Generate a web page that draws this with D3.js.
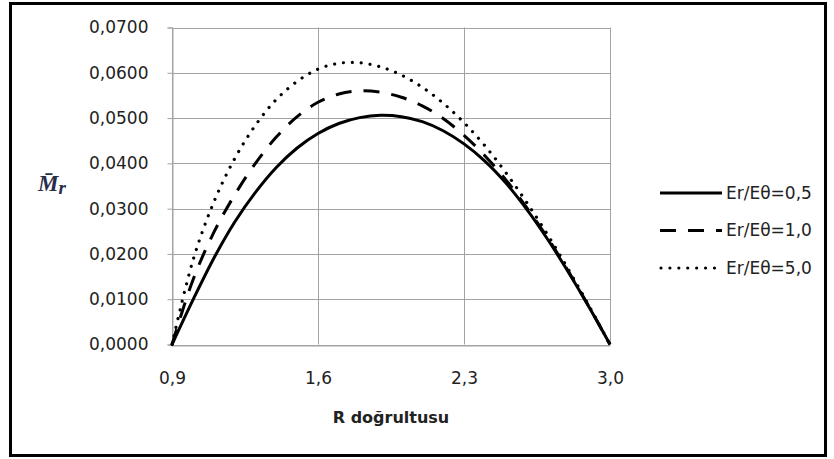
<!DOCTYPE html>
<html>
<head>
<meta charset="utf-8">
<script src="https://cdn.jsdelivr.net/npm/d3@7"></script>
<style>
  html, body { margin: 0; padding: 0; background: #fff; }
  svg { display: block; }
  text { font-family: "DejaVu Sans", sans-serif; fill: #222; }
</style>
</head>
<body>
<svg id="chart" width="834" height="459"></svg>
<script>
// Radial positions along R
const rValues = [0.9, 1.0, 1.1, 1.2, 1.3, 1.4, 1.5, 1.6, 1.7, 1.8, 1.9,
                 2.0, 2.1, 2.2, 2.3, 2.4, 2.5, 2.6, 2.7, 2.8, 2.9, 3.0];

// Moment M̄r for each modulus ratio Er/Eθ
const momentHalf = [0, 0.0098, 0.0190, 0.0270, 0.0336, 0.0391, 0.0434, 0.0466, 0.0488, 0.0501,
                    0.0506, 0.0503, 0.0492, 0.0472, 0.0443, 0.0405, 0.0357, 0.0299, 0.0233, 0.0160, 0.0082, 0];
const momentOne  = [0, 0.0142, 0.0247, 0.0330, 0.0400, 0.0458, 0.0503, 0.0535, 0.0553, 0.0560,
                    0.0557, 0.0546, 0.0527, 0.0499, 0.0462, 0.0417, 0.0364, 0.0303, 0.0236, 0.0162, 0.0083, 0];
const momentFive = [0, 0.0185, 0.0314, 0.0410, 0.0484, 0.0541, 0.0581, 0.0608, 0.0621, 0.0622,
                    0.0613, 0.0595, 0.0568, 0.0533, 0.0490, 0.0439, 0.0380, 0.0314, 0.0243, 0.0166, 0.0085, 0];

const seriesNames = ["Er/Eθ=0,5", "Er/Eθ=1,0", "Er/Eθ=5,0"];
const xTicks = [0.9, 1.6, 2.3, 3.0];
const yTicks = [0, 0.01, 0.02, 0.03, 0.04, 0.05, 0.06, 0.07];

const svg = d3.select("#chart");

// outer frame
svg.append("rect")
  .attr("x", 10.5).attr("y", 3.5)
  .attr("width", 815).attr("height", 452)
  .attr("fill", "#fff").attr("stroke", "#000").attr("stroke-width", 3);

const x = d3.scaleLinear().domain([0.9, 3.0]).range([172, 610]);
const y = d3.scaleLinear().domain([0, 0.07]).range([344.5, 27.5]);
const fmtComma = (v, digits) => v.toFixed(digits).replace(".", ",");

const gridColor = "#a3a3a3";

// horizontal grid lines
svg.append("g").selectAll("line").data(yTicks).join("line")
  .attr("x1", x(0.9)).attr("x2", x(3.0))
  .attr("y1", d => Math.round(y(d)) + 0.5).attr("y2", d => Math.round(y(d)) + 0.5)
  .attr("stroke", gridColor).attr("stroke-width", 1);

// vertical grid lines
svg.append("g").selectAll("line").data(xTicks).join("line")
  .attr("x1", d => Math.round(x(d)) + 0.5).attr("x2", d => Math.round(x(d)) + 0.5)
  .attr("y1", y(0.07)).attr("y2", y(0))
  .attr("stroke", gridColor).attr("stroke-width", 1);

// y axis with outside ticks
const yAxis = d3.axisLeft(y).tickValues(yTicks).tickSize(5).tickPadding(19)
  .tickFormat(d => fmtComma(d, 4));
const gy = svg.append("g").attr("transform", `translate(${Math.round(x(0.9)) + 0.5},0)`).call(yAxis);
gy.select(".domain").attr("stroke", gridColor);
gy.selectAll(".tick line").attr("stroke", gridColor);
gy.selectAll(".tick text").attr("font-size", 17).attr("font-family", "DejaVu Sans").attr("fill", "#222");

// x axis
const xAxis = d3.axisBottom(x).tickValues(xTicks).tickSize(0).tickPadding(26)
  .tickFormat(d => fmtComma(d, 1));
const gx = svg.append("g").attr("transform", `translate(0,${Math.round(y(0)) + 0.5})`).call(xAxis);
gx.select(".domain").attr("stroke", gridColor);
gx.selectAll(".tick text").attr("font-size", 17).attr("font-family", "DejaVu Sans").attr("fill", "#222");

// axis titles
svg.append("text")
  .attr("x", 391).attr("y", 423)
  .attr("text-anchor", "middle")
  .attr("font-size", 16).attr("font-weight", "bold")
  .text("R doğrultusu");

const yTitle = svg.append("text")
  .attr("x", 38).attr("y", 191)
  .style("font-family", "'Liberation Serif', 'DejaVu Serif', serif")
  .style("font-style", "italic").style("font-weight", "bold")
  .style("font-size", "23px")
  .style("fill", "#2a2d4a");
yTitle.append("tspan").text("M\u0304");
yTitle.append("tspan").style("font-size", "19px").attr("dy", 3).text("r");

// curves
const styles = [
  { dash: null, cap: "butt" },
  { dash: "16,12", cap: "butt" },
  { dash: "0.01,8.9", cap: "round" }
];
const seriesData = [momentHalf, momentOne, momentFive];

const line = d3.line()
  .x(d => x(d[0])).y(d => y(d[1]))
  .curve(d3.curveCatmullRom.alpha(0.5));

const plot = svg.append("g");
seriesData.forEach((vals, i) => {
  plot.append("path")
    .datum(rValues.map((r, k) => [r, vals[k]]))
    .attr("d", line)
    .attr("fill", "none")
    .attr("stroke", "#000")
    .attr("stroke-width", i === 2 ? 3.2 : 3)
    .attr("stroke-linecap", styles[i].cap)
    .attr("stroke-dasharray", styles[i].dash);
});

// legend
const legend = svg.append("g");
const legendY = [193, 230.5, 268];
seriesNames.forEach((name, i) => {
  legend.append("line")
    .attr("x1", i === 2 ? 661 : 660).attr("x2", 722)
    .attr("y1", legendY[i]).attr("y2", legendY[i])
    .attr("stroke", "#000").attr("stroke-width", i === 2 ? 3.2 : 3)
    .attr("stroke-linecap", styles[i].cap)
    .attr("stroke-dasharray", styles[i].dash);
  legend.append("text")
    .attr("x", 726).attr("y", legendY[i])
    .attr("dy", "0.35em")
    .attr("font-size", 17)
    .text(name);
});
</script>
</body>
</html>
